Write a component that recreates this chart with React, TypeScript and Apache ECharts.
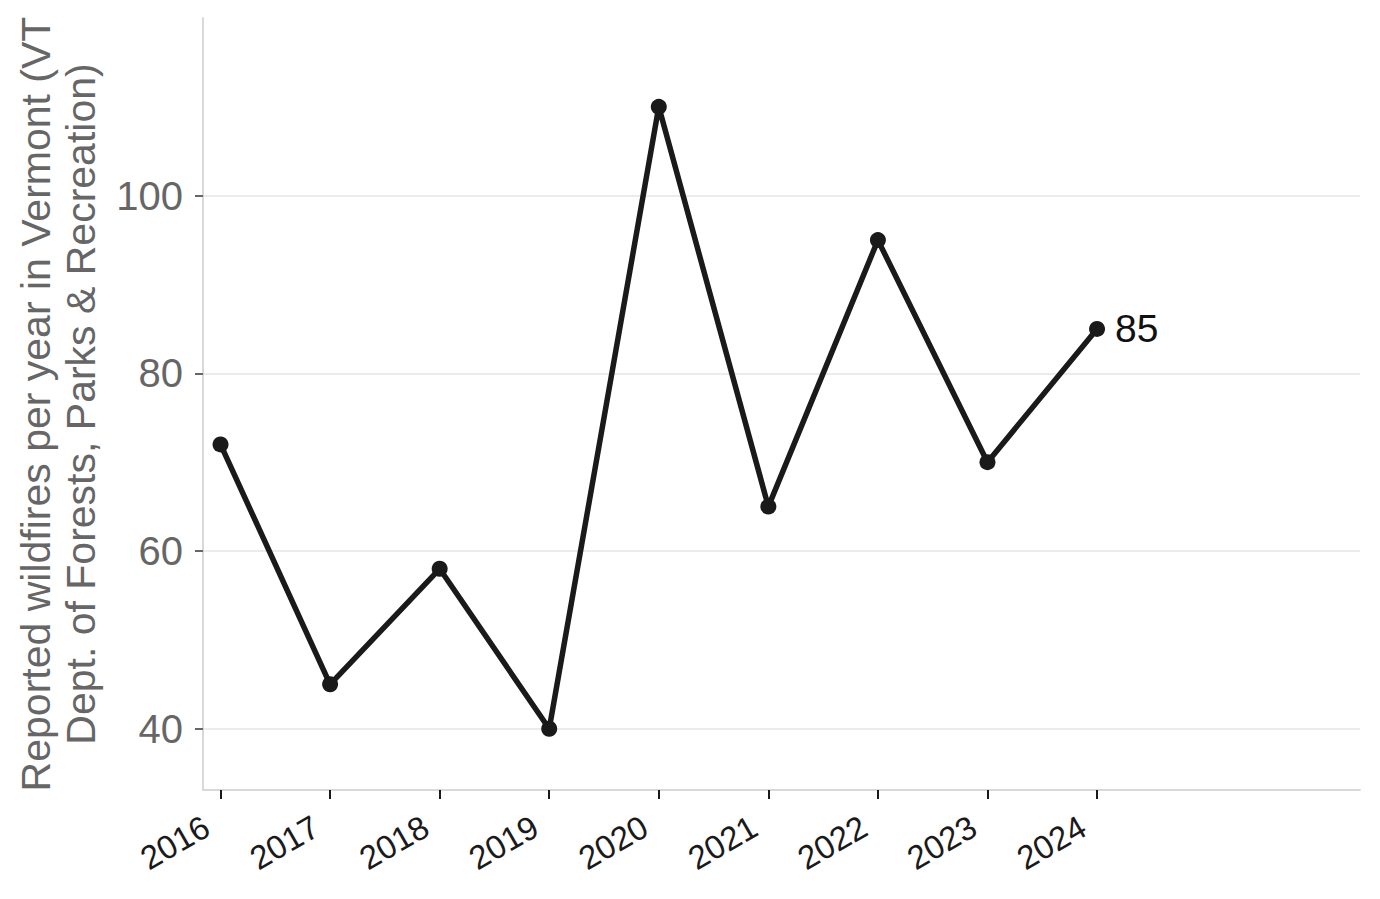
import { useEffect, useRef } from "react";
import * as echarts from "echarts";

const years = [2016, 2017, 2018, 2019, 2020, 2021, 2022, 2023, 2024];
const wildfires = [72, 45, 58, 40, 110, 65, 95, 70, 85];
const yTicks = [40, 60, 80, 100];
const yAxisTitle = "Reported wildfires per year in Vermont (VT\nDept. of Forests, Parks & Recreation)";

const FONT = "'Liberation Sans', Arial, Helvetica, sans-serif";

export default function App() {
  const containerRef = useRef<HTMLDivElement | null>(null);

  useEffect(() => {
    if (!containerRef.current) {
      return;
    }
    document.body.style.margin = "0";

    const chart = echarts.init(containerRef.current, undefined, { renderer: "svg" });
    const lastIndex = wildfires.length - 1;

    const option: echarts.EChartsOption = {
      animation: false,
      backgroundColor: "#ffffff",
      grid: {
        left: 203,
        right: 20,
        top: 18,
        bottom: 109,
      },
      xAxis: {
        type: "value",
        min: 2015.84,
        max: 2026.4,
        axisLine: {
          onZero: false,
          lineStyle: { color: "#d9d9d9", width: 2 },
        },
        axisTick: {
          customValues: years,
          length: 9,
          lineStyle: { color: "#1a1a1a", width: 2 },
        },
        axisLabel: {
          customValues: years,
          formatter: (value: number) => String(value),
          rotate: 30,
          margin: 26,
          padding: [0, 16, 0, 0],
          color: "#1a1a1a",
          fontSize: 33,
          fontFamily: FONT,
        },
        splitLine: { show: false },
      },
      yAxis: {
        type: "value",
        min: 33.1,
        max: 120,
        name: yAxisTitle,
        nameLocation: "middle",
        nameRotate: 90,
        nameGap: 100,
        nameTextStyle: {
          color: "#666666",
          fontSize: 41,
          lineHeight: 45,
          fontFamily: FONT,
        },
        axisLine: {
          show: true,
          lineStyle: { color: "#d9d9d9", width: 2 },
        },
        axisTick: {
          show: true,
          customValues: yTicks,
          length: 8,
          lineStyle: { color: "#666666", width: 2 },
        },
        axisLabel: {
          customValues: yTicks,
          margin: 20,
          color: "#666666",
          fontSize: 40,
          fontFamily: FONT,
        },
        splitLine: {
          show: true,
          lineStyle: { color: "#ebebeb", width: 2 },
        },
      },
      series: [
        {
          type: "line",
          data: years.map((year, index) => ({
            value: [year, wildfires[index]],
            label: index === lastIndex
              ? {
                  show: true,
                  position: "right",
                  distance: 10,
                  formatter: String(wildfires[index]),
                  color: "#111111",
                  fontSize: 39,
                  fontFamily: FONT,
                }
              : { show: false },
          })),
          symbol: "circle",
          symbolSize: 16,
          lineStyle: { color: "#1a1a1a", width: 5.5 },
          itemStyle: { color: "#1a1a1a" },
        },
      ],
    };

    chart.setOption(option);

    return () => {
      chart.dispose();
    };
  }, []);

  return (
    <div
      ref={containerRef}
      style={{ position: "absolute", left: 0, top: 0, width: 1380, height: 899 }}
    />
  );
}
